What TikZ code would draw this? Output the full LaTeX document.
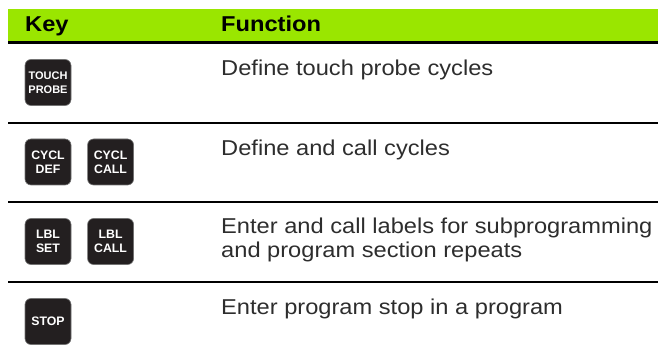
\documentclass[tikz,border=0pt]{standalone}
\usepackage{fontspec}
\setmainfont{Liberation Sans}[FakeStretch=1.1]
\newfontfamily\keyfont{Liberation Sans}
\usetikzlibrary{positioning}
\definecolor{headgreen}{RGB}{154,230,0}
\definecolor{keyblack}{RGB}{35,31,32}
\definecolor{textgray}{RGB}{45,45,45}

\begin{document}
\begin{tikzpicture}[x=1pt,y=-1pt,
	keycap/.style={draw=black!55, line width=0.6pt, fill=keyblack, rounded corners=6pt,
		minimum width=46pt, minimum height=46pt, inner sep=0pt, align=center, text=white,
		font=\keyfont\bfseries\fontsize{12.3}{14}\selectfont},
	functext/.style={anchor=base west, align=left, inner sep=0pt, text=textgray,
		font=\fontsize{21.5}{24}\selectfont},
	headtext/.style={anchor=base west, inner sep=0pt, font=\bfseries\fontsize{21.5}{24}\selectfont},
	rowrule/.style={line width=2pt}]
	\useasboundingbox (0,0) rectangle (658,355);
	% header
	\fill[headgreen] (8,9) rectangle (658,41);
	\draw[line width=3pt] (8,42.5) -- (658,42.5);
	\node[headtext] (keyhead) at (25,32) {Key};
	\node[headtext] (funchead) at (221,32) {Function};
	% touch probe
	\node[keycap, font=\keyfont\bfseries\fontsize{11}{13.5}\selectfont] (touchprobe) at (48,82.5) {TOUCH\\PROBE};
	\node[functext] (touchtext) at (221,76) {Define touch probe cycles};
	\draw[rowrule] (8,123) -- (658,123);
	% cycles
	\node[keycap] (cycldef) at (48,162) {CYCL\\DEF};
	\node[keycap, right=16pt of cycldef] (cyclcall) {CYCL\\CALL};
	\node[functext] (cycltext) at (221,155.5) {Define and call cycles};
	\draw[rowrule] (8,202) -- (658,202);
	% labels (base = last line)
	\node[keycap] (lblset) at (48,241.5) {LBL\\SET};
	\node[keycap, right=16pt of lblset] (lblcall) {LBL\\CALL};
	\node[functext] (lbltext) at (221,258) {Enter and call labels for subprogramming\\and program section repeats};
	\draw[rowrule] (8,282) -- (658,282);
	% stop
	\node[keycap] (stopkey) at (48,321.5) {STOP};
	\node[functext] (stoptext) at (221,314.5) {Enter program stop in a program};
\end{tikzpicture}
\end{document}
